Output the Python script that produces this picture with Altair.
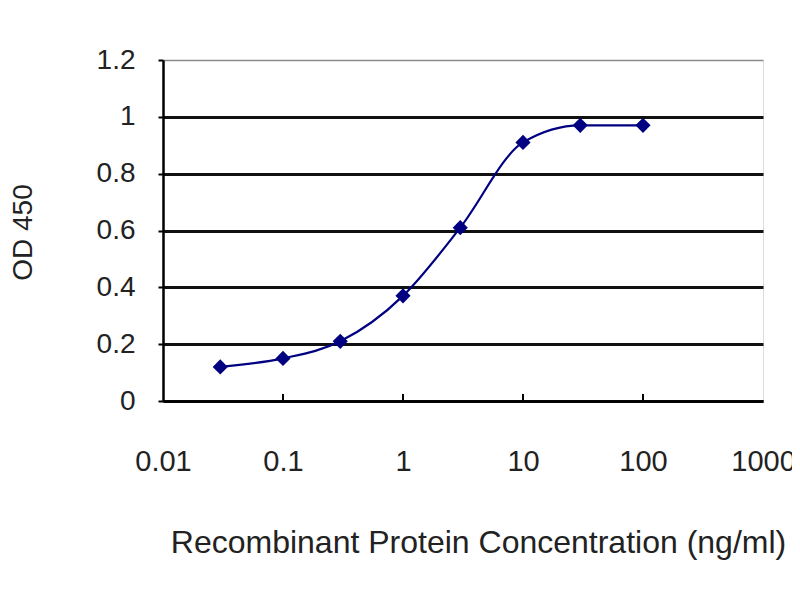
import altair as alt
import pandas as pd

conc = [0.03, 0.1, 0.3, 1, 3, 10, 30, 100]
od = [0.12, 0.15, 0.21, 0.37, 0.61, 0.91, 0.97, 0.97]
x_ticks = [0.01, 0.1, 1, 10, 100, 1000]
y_ticks = [0, 0.2, 0.4, 0.6, 0.8, 1.0, 1.2]

df = pd.DataFrame({"conc": conc, "od": od})
ticks_df = pd.DataFrame({"t": x_ticks[1:-1]})

W, H = 600, 341
FONT = "Liberation Sans"
TXT = "#222222"

xscale = alt.Scale(type="log", domain=[0.01, 1000])
yscale = alt.Scale(domain=[0, 1.2])

xaxis = alt.Axis(
    values=x_ticks, format="~g", grid=False, ticks=False,
    domainColor="black", domainWidth=2.5,
    labelFont=FONT, labelFontSize=29, labelColor=TXT, labelPadding=46,
    labelFlush=False, labelOverlap=False,
    title="Recombinant Protein Concentration (ng/ml)",
    titleFont=FONT, titleFontSize=32, titleFontWeight="normal", titleColor=TXT,
    titleX=315, titleY=141, titleBaseline="middle", titleAlign="center",
)
yaxis = alt.Axis(
    values=y_ticks, format="~g", grid=True,
    gridColor={"condition": {"test": "datum.value > 1.1", "value": "#8a8a8a"}, "value": "#111111"},
    gridWidth={"condition": {"test": "datum.value > 1.1", "value": 1.5}, "value": 2.8},
    domainColor="black", domainWidth=2.5,
    tickColor="black", tickSize=5, tickWidth=2,
    labelFont=FONT, labelFontSize=28, labelColor=TXT, labelPadding=23,
    labelOverlap=False,
    title="OD 450", titleFont=FONT, titleFontSize=28, titleFontWeight="normal", titleColor=TXT,
    titleAngle=270, titleX=-140, titleY=172, titleAlign="center", titleBaseline="middle",
)

line = alt.Chart(df).mark_line(color="#000080", strokeWidth=2.2, interpolate="monotone").encode(
    x=alt.X("conc:Q", scale=xscale, axis=xaxis),
    y=alt.Y("od:Q", scale=yscale, axis=yaxis),
)
pts = alt.Chart(df).mark_point(shape="diamond", filled=True, color="#000080", size=230, opacity=1).encode(
    x=alt.X("conc:Q", scale=xscale),
    y=alt.Y("od:Q", scale=yscale),
)
tk = alt.Chart(ticks_df).mark_rule(color="black", strokeWidth=2).encode(
    x=alt.X("t:Q", scale=xscale),
    y=alt.value(H - 7),
    y2=alt.value(H),
)

chart = alt.layer(line, tk, pts).properties(
    width=W, height=H,
    autosize=alt.AutoSizeParams(type="none"),
    padding={"left": 155, "top": 52, "right": 29, "bottom": 180},
).configure_view(stroke="#8a8a8a", strokeWidth=1.5).configure(background="white")

chart.save("out.html", embed_options={"renderer": "svg", "actions": False})
